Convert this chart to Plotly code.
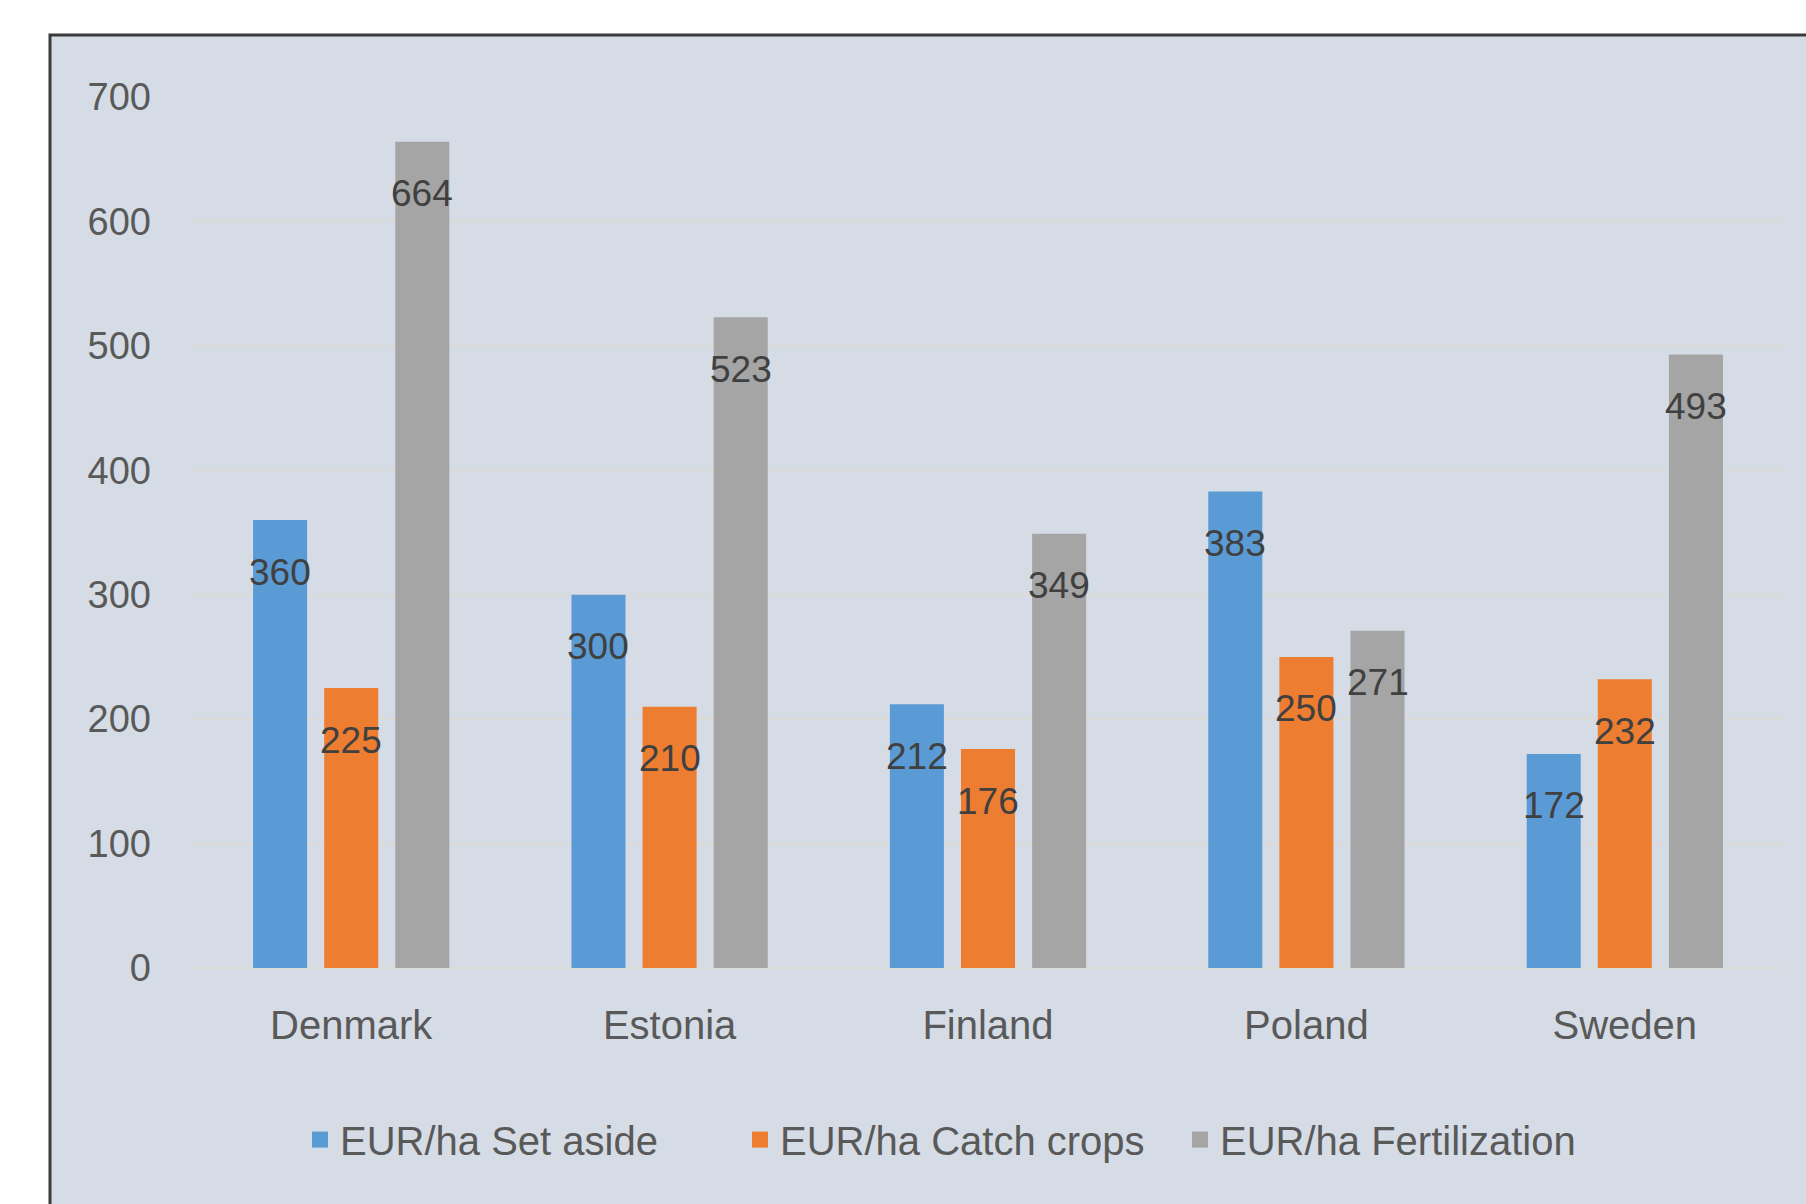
import plotly.graph_objects as go

categories = ["Denmark", "Estonia", "Finland", "Poland", "Sweden"]
set_aside = [360, 300, 212, 383, 172]
catch_crops = [225, 210, 176, 250, 232]
fertilization = [664, 523, 349, 271, 493]
series_names = ["EUR/ha Set aside", "EUR/ha Catch crops", "EUR/ha Fertilization"]
series_values = [set_aside, catch_crops, fertilization]
colors = ["#5b9bd5", "#ed7d31", "#a5a5a5"]
y_ticks = [0, 100, 200, 300, 400, 500, 600, 700]

W, H = 1806, 1204
ML, MR, MT, MB = 192, 22, 97, 236
BARGAP, BARGROUPGAP = 0.33, 0.24
FONT = "Liberation Sans, Arial, sans-serif"
TXT = "#595959"

fig = go.Figure()
for name, vals, col in zip(series_names, series_values, colors):
    fig.add_trace(go.Bar(x=categories, y=vals, name=name, marker_color=col,
                         marker_line_width=0, showlegend=False))
# legend proxies (larger square symbols)
for name, col in zip(series_names, colors):
    fig.add_trace(go.Scatter(x=[None], y=[None], mode="markers", name=name,
                             marker=dict(symbol="square", size=16, color=col),
                             showlegend=True, hoverinfo="skip"))

plot_w = W - ML - MR
cat_px = plot_w / len(categories)
slot = cat_px * (1 - BARGAP) / len(series_values)
annotations = []
for i, vals in enumerate(series_values):
    for c, v in zip(categories, vals):
        annotations.append(dict(x=c, y=v, xref="x", yref="y", text=str(v),
                                showarrow=False, xshift=(i - 1) * slot, yshift=-52,
                                font=dict(family=FONT, size=37, color="#404040")))

fig.update_layout(
    width=W, height=H,
    margin=dict(l=ML, r=MR, t=MT, b=MB),
    paper_bgcolor="white",
    plot_bgcolor="rgba(0,0,0,0)",
    barmode="group", bargap=BARGAP, bargroupgap=BARGROUPGAP,
    font=dict(family=FONT, size=38, color=TXT),
    showlegend=True,
    legend=dict(orientation="h", x=(300 - ML) / plot_w, xanchor="left",
                y=-0.197, yanchor="middle", entrywidth=395, itemwidth=30,
                font=dict(family=FONT, size=40, color=TXT), bgcolor="rgba(0,0,0,0)"),
    annotations=annotations,
    shapes=[dict(type="rect", xref="paper", yref="paper",
                 x0=(50 - ML) / plot_w, x1=1.2,
                 y0=-0.4, y1=(H - MB - 35) / (H - MT - MB),
                 fillcolor="#d6dce5", line=dict(color="#3a3a3a", width=3),
                 layer="below")],
)
fig.update_xaxes(showgrid=False, showline=False, ticks="", ticklabelstandoff=30,
                 tickfont=dict(family=FONT, size=40, color=TXT))
fig.update_yaxes(range=[0, 700], tickvals=y_ticks, showgrid=True,
                 gridcolor="#dcdad6", gridwidth=2, zeroline=True,
                 zerolinecolor="#dcdad6", zerolinewidth=2, showline=False,
                 ticks="", ticklabelstandoff=40,
                 tickfont=dict(family=FONT, size=38, color=TXT))

fig.write_html("out.html")
